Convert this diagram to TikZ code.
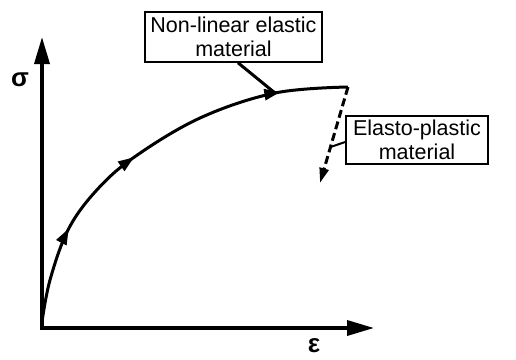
\documentclass[tikz,border=0pt]{standalone}
\usepackage{fontspec}
\setmainfont{Liberation Sans}
\usetikzlibrary{arrows.meta,decorations.markings}
\begin{document}
\begin{tikzpicture}[x=1pt,y=-1pt,
  axis/.style={line width=3.5pt, line join=miter,
    {Triangle[length=27pt,width=15pt]}-{Triangle[length=27pt,width=15pt]}},
  labelbox/.style={draw, line width=1.5pt, align=center, inner sep=0pt,
    font=\fontsize{21.5}{24}\selectfont},
  greek/.style={font=\fontsize{26}{28}\selectfont\bfseries},
  leader/.style={line width=3pt},
  curvepath/.style={line width=3pt, postaction={decorate},
    decoration={markings,
      mark=at position 0.23 with {\arrow{Triangle[length=16pt,width=11pt]}},
      mark=at position 0.46 with {\arrow{Triangle[length=16pt,width=11pt]}},
      mark=at position 0.84 with {\arrow{Triangle[length=16pt,width=11pt]}}}},
  dashedpath/.style={line width=3pt, dash pattern=on 8pt off 4pt,
    -{Triangle[length=15pt,width=9pt]}}
]
\useasboundingbox (0,0) rectangle (516,359);
% axes
\coordinate (ytop) at (42,37);
\coordinate (O) at (42,328);
\coordinate (xend) at (374,328);
\draw[axis] (ytop) -- (O) -- (xend);
\node[greek] (sig) at (20,80) {σ};
\node[greek] (eps) at (314,346) {ε};
% curve
\coordinate (P) at (275,93);
\coordinate (C) at (348,87);
\coordinate (D) at (320,183);
\coordinate (Q) at (330.5,147);
\draw[curvepath] plot[smooth, tension=0.6] coordinates
  {(42,322) (50,280) (68,230) (95,192) (133,158) (200,118) (275,93) (348,87)};
\draw[dashedpath] (C) -- (D);
% labels
\node[labelbox, minimum width=177pt, minimum height=50pt] (n1) at (233.5,37)
  {Non-linear elastic\\material};
\node[labelbox, minimum width=142pt, minimum height=48pt] (n2) at (417,140)
  {Elasto-plastic\\material};
\draw[leader] ([xshift=4.5pt]n1.south) -- (P);
\draw[leader, line width=2pt] ([yshift=-2pt]n2.west) -- (Q);
\end{tikzpicture}
\end{document}
